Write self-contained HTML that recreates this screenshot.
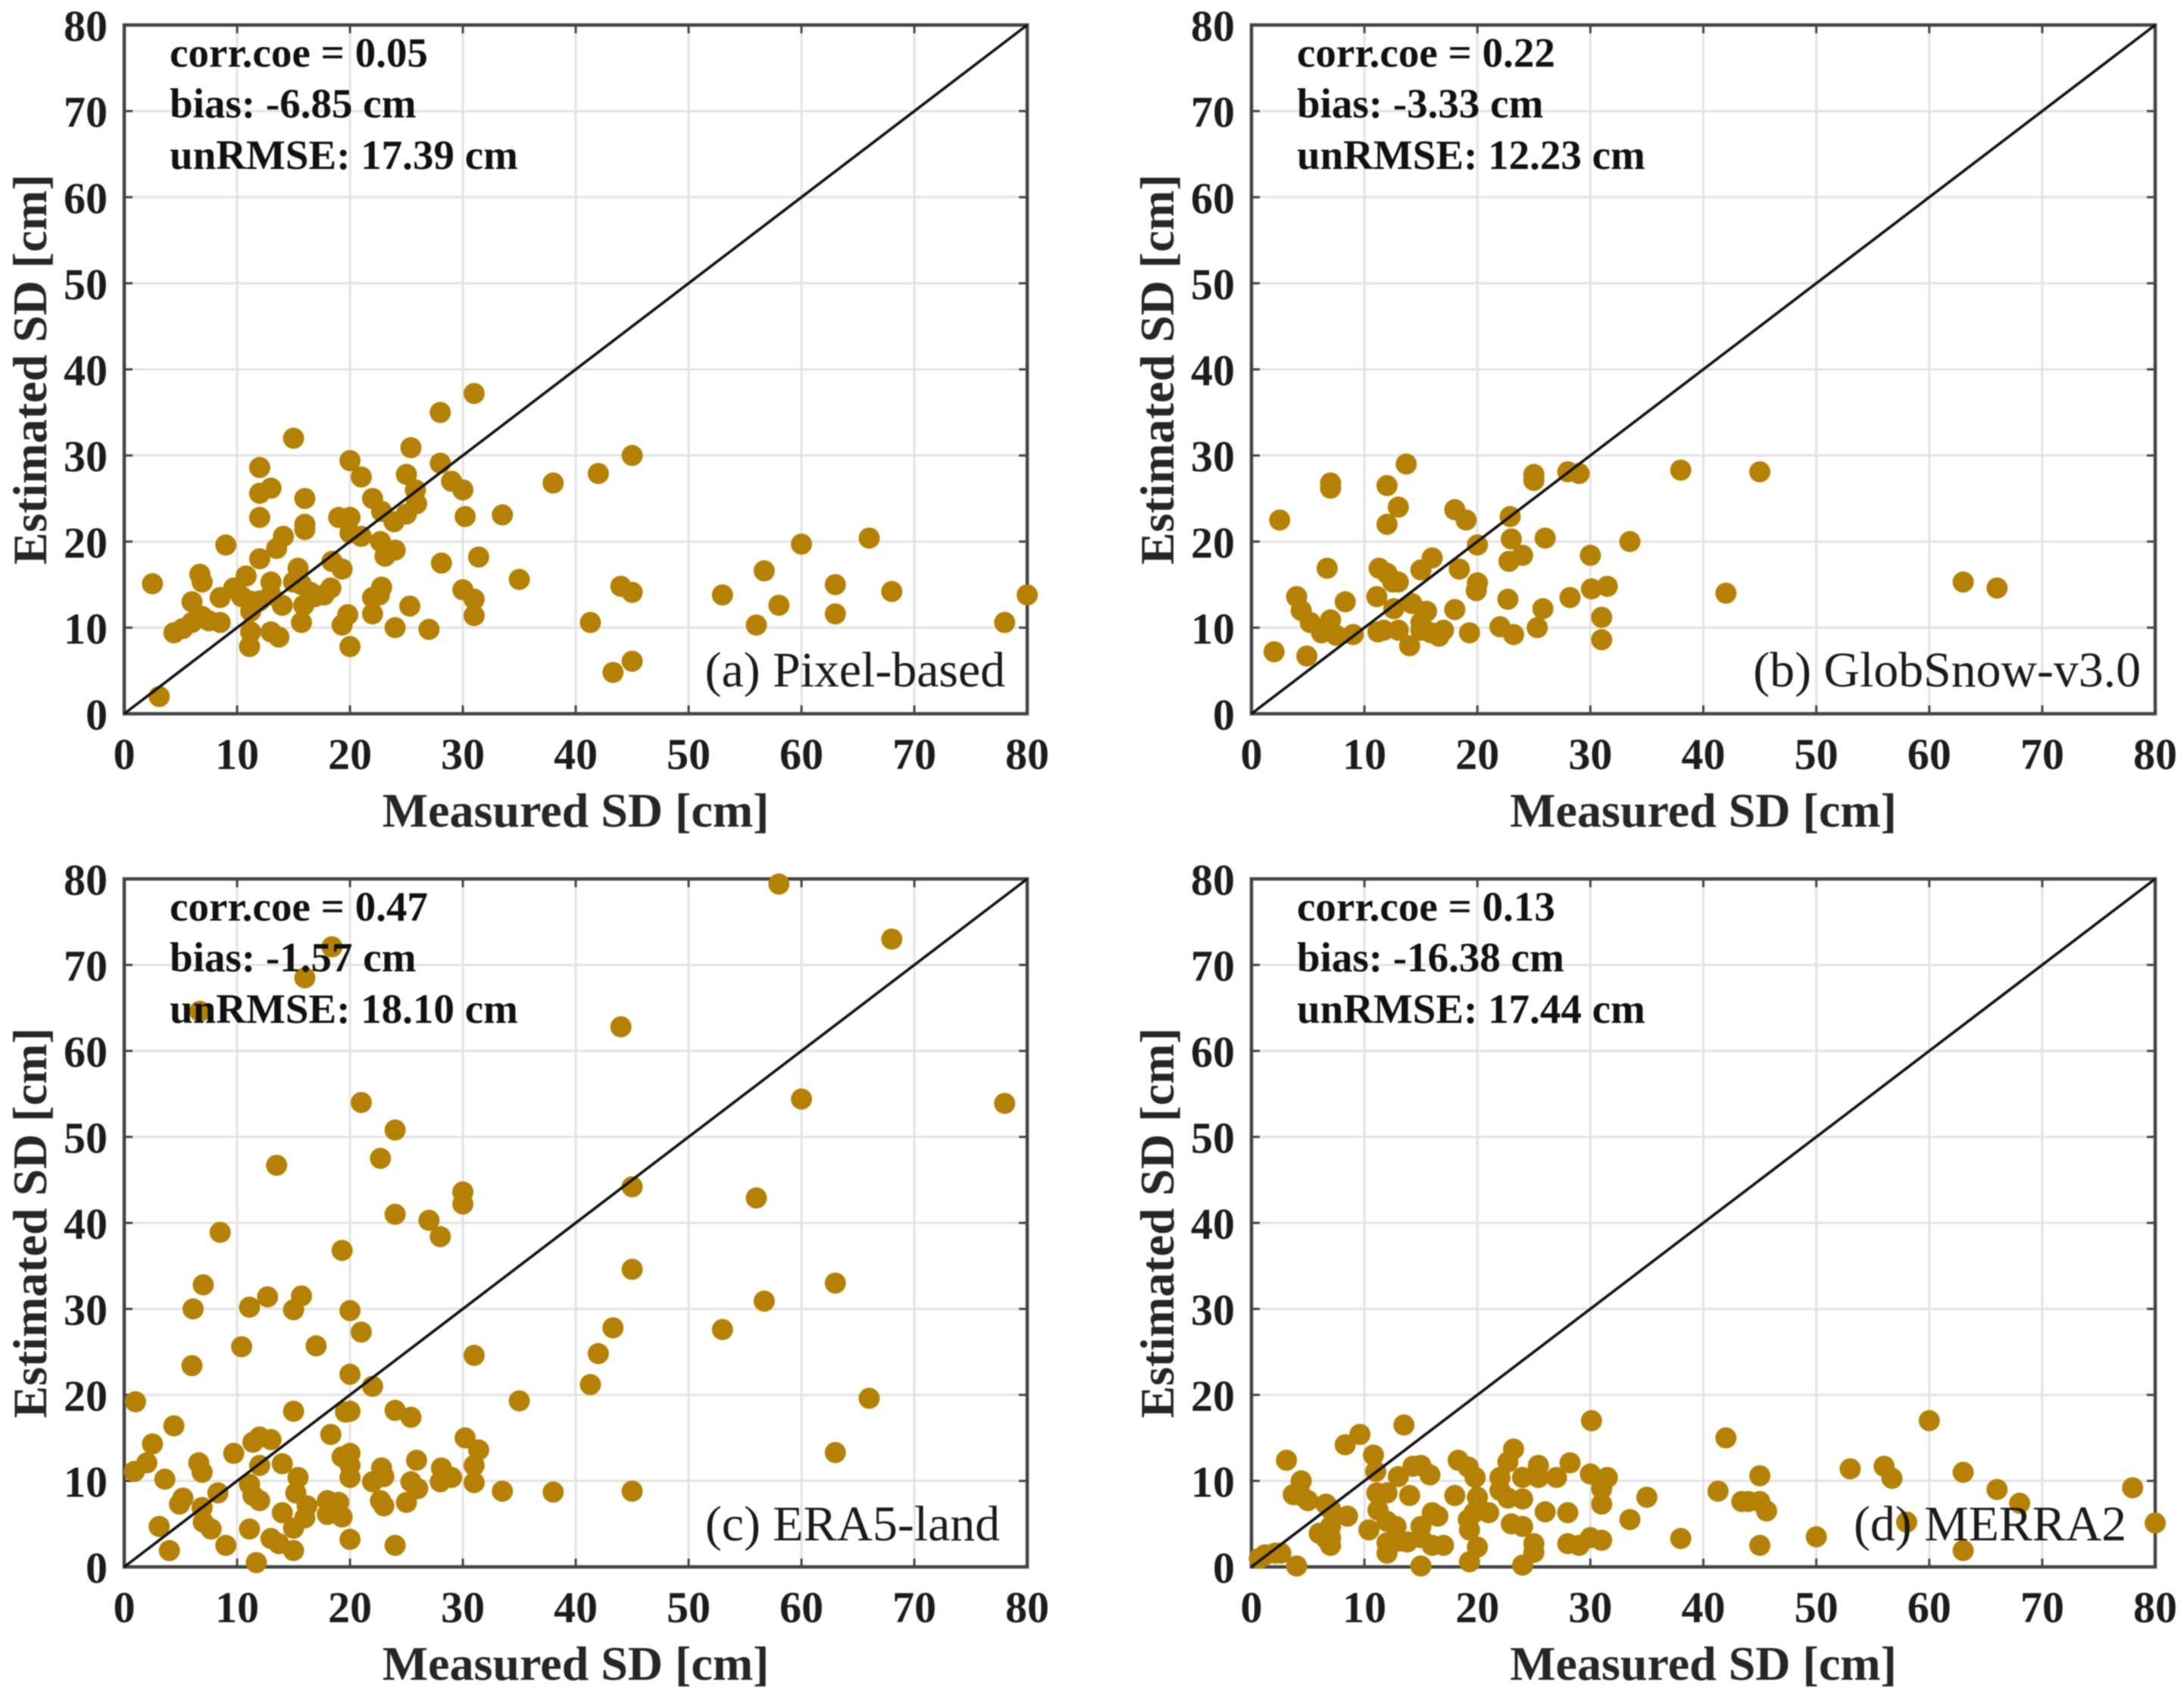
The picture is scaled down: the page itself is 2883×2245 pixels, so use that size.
<!DOCTYPE html>
<html lang="en">
<head>
<meta charset="utf-8">
<title>Snow depth scatter comparison</title>
<style>
html,body{margin:0;padding:0;background:#fff;width:2883px;height:2245px;overflow:hidden}
svg{display:block;filter:blur(0.7px)}
text{font-family:"Liberation Serif","DejaVu Serif",serif;fill:#1c1c1c}
.tick{font-size:58px;font-weight:bold}
.title{font-size:64px;font-weight:bold;text-anchor:middle;fill:#262626}
.stat{font-size:55px;font-weight:bold;fill:#111}
.tag{font-size:65.8px;text-anchor:end;fill:#1a1a1a}
</style>
</head>
<body>
<svg id="figure" xmlns="http://www.w3.org/2000/svg" width="2883" height="2245" viewBox="0 0 2883 2245">
  <rect width="2883" height="2245" fill="#fff"/>

  <g id="panel-a">
    <g id="under-a"></g>
    <g id="dots-a"></g>
    <g id="over-a"></g>
    <text class="stat" x="224" y="88">corr.coe = 0.05</text>
    <text class="stat" x="224" y="155">bias: -6.85 cm</text>
    <text class="stat" x="224" y="223">unRMSE: 17.39 cm</text>
    <text class="tag" x="1327" y="906">(a) Pixel-based</text>
  </g>

  <g id="panel-b">
    <g id="under-b"></g>
    <g id="dots-b"></g>
    <g id="over-b"></g>
    <text class="stat" x="1712" y="88">corr.coe = 0.22</text>
    <text class="stat" x="1712" y="155">bias: -3.33 cm</text>
    <text class="stat" x="1712" y="223">unRMSE: 12.23 cm</text>
    <text class="tag" x="2826" y="906">(b) GlobSnow-v3.0</text>
  </g>

  <g id="panel-c">
    <g id="under-c"></g>
    <g id="dots-c"></g>
    <g id="over-c"></g>
    <text class="stat" x="224" y="1215">corr.coe = 0.47</text>
    <text class="stat" x="224" y="1282">bias: -1.57 cm</text>
    <text class="stat" x="224" y="1350">unRMSE: 18.10 cm</text>
    <text class="tag" x="1320" y="2033">(c) ERA5-land</text>
  </g>

  <g id="panel-d">
    <g id="under-d"></g>
    <g id="dots-d"></g>
    <g id="over-d"></g>
    <text class="stat" x="1712" y="1215">corr.coe = 0.13</text>
    <text class="stat" x="1712" y="1282">bias: -16.38 cm</text>
    <text class="stat" x="1712" y="1350">unRMSE: 17.44 cm</text>
    <text class="tag" x="2807" y="2033">(d) MERRA2</text>
  </g>
</svg>

<script>
const tickValues = [0, 10, 20, 30, 40, 50, 60, 70, 80];
const xAxisTitle = "Measured SD [cm]";
const yAxisTitle = "Estimated SD [cm]";

const pixelMeasured = [2.5,3.1,4.4,5.2,6,6,6.7,6.9,6.9,7.5,8.5,8.5,9,9.7,10.4,10.8,11.1,11.2,11.2,11.1,12,12,13,12,12,12,13,13,13,13.7,13.5,14.1,14,15,15,15.4,16,16,16,15.7,15.7,15.9,16.5,16.9,17.7,18.3,18.4,19.3,19,20,20,20,19.3,19.8,20,21,21,22,22,22,22.8,22.8,22.6,22.7,23.1,23.9,24,24,25,25,25.4,25.8,25.9,25.3,27,28,28,28.1,29,30,30.2,30,31,31,31,31.4,33.5,35,38,41.3,42,43.3,44,45,45,45,53,56,56.7,58,60,63,63,66,68,78,80];
const pixelEstimated = [15.1,2,9.4,9.9,13,10.6,16.2,15.3,11.3,10.8,10.6,13.5,19.6,14.6,13.6,16,13.1,11.9,9.5,7.8,28.6,25.6,26.2,22.8,18,13.1,15.3,13.8,9.5,8.9,19.2,20.6,12.6,32,15.3,16.9,25,22,21.4,15,10.6,12.6,14.1,13.6,13.8,14.6,17.7,16.8,22.8,22.8,29.4,21,10.3,11.5,7.8,27.5,20.6,25,13.5,11.6,23.5,14.7,13.8,20,18.3,22.3,19,10,27.8,23.2,30.9,26,24.4,12.5,9.8,35,29.1,17.5,27,26,22.9,14.4,13.3,11.4,37.2,18.2,23.1,15.6,26.8,10.6,27.9,4.8,14.8,14.1,30,6.1,13.8,10.3,16.6,12.6,19.7,15,11.6,20.4,14.2,10.6,13.8];

const globMeasured = [2,2.5,4,4.4,5.2,4.9,6.2,6.7,7,7,7,7.5,8.3,9,11.1,11.2,11.3,12,11.7,12,12,12.5,13,13,12.6,13,13.7,14.2,14,15,16,15.5,15,15,15.9,16.6,17,18,18,18.4,19,19.3,20,20,19.9,22,22.9,23,22.8,22.7,23.2,24,25,25,25.3,25.8,26,28,29,28.2,30,30.1,31,31,31.5,33.5,38,42,45,63,66];
const globEstimated = [7.2,22.5,13.6,12,10.6,6.7,9.4,16.9,26.8,26.2,10.9,9.1,13,9.2,13.6,9.5,16.9,16.3,9.7,26.5,22,15.3,15.3,24,12.2,9.7,29,12.8,7.9,16.7,18.1,11.9,10.6,9.7,9.4,9,9.7,12.1,23.7,16.8,22.5,9.4,19.6,15.2,14.3,10.1,22.9,20.3,17.7,13.3,9.2,18.4,27.8,27.1,10,12.2,20.4,28.1,27.9,13.5,18.4,14.5,11.2,8.6,14.8,20,28.3,14,28.1,15.3,14.6];

const eraMeasured = [1,0.9,2,2.5,3.1,3.6,4,4.4,5.2,4.9,6,6.1,6.6,6.9,6.9,7,7,7.7,8.3,8.5,9,9.7,10.4,11.1,11.1,11.7,11.1,11.4,12,12,11.4,12,13,12.7,13.5,13,13.7,14,14,15,15,15.7,15.4,15.2,15,15,16,16,16.2,17,18,18,18.3,18.4,19,19.3,19.3,19.3,19.6,20,20,20,20,20,20,20,21,21,22,22,22.7,22.8,23,22.7,23,24,24,24,24,25,25.4,25.4,25.9,26,27,28,28,28.1,29,30,30,30.2,31,31,31,31.4,33.5,35,38,41.3,42,43.3,44,45,45,45,53,56,56.7,58,60,63,63,66,68,78,6.7];
const eraEstimated = [19.2,11.1,12.1,14.3,4.7,10.2,1.9,16.4,8,7.3,23.4,30,12.1,11,6.9,32.8,5.2,4.4,8.6,38.9,2.5,13.2,25.6,30.2,4.4,0.5,9.6,8.3,7.7,11.8,14.5,15.1,14.8,31.4,46.7,3.3,2.7,12,6.3,18.1,29.9,31.5,10.4,8.6,4.5,1.9,68.5,5.7,7.1,25.7,7.7,6.1,15.4,72.1,7.5,5.8,36.8,12.8,18,13.2,11.8,10.4,3.2,29.8,22.4,18.1,54,27.3,21,9.9,47.5,11.5,10.5,7.7,7.1,50.8,41,18.2,2.5,7.5,9.9,17.4,12.4,9.1,40.3,38.4,9.9,11.5,10.4,43.6,42.2,15,24.6,11.8,9.8,13.6,8.8,19.3,8.7,21.2,24.8,27.8,62.8,44.2,34.6,8.8,27.6,42.9,30.9,79.4,54.4,33,13.3,19.6,73,53.9,64.6];

const merraMeasured = [0.7,1.2,2.1,2.6,3.1,4,3.7,4.4,4.4,5,6,6.6,7,7,7,6.6,7,8.3,8.5,9.6,10.4,10.8,11,11.1,11.2,12,12,12,12,13,12.8,13.1,13.5,13.8,14,14.3,15,15,15,15,15.8,16,16.5,16,17,18.3,18,19.2,19.3,19.2,19.3,19.8,20,20,19.7,21,22,22,22.7,23.2,22.7,23,24,24,24,24,25,25,25.4,25.4,26,27,28,28.2,28,29,30,30,30.1,31,31,31,31.5,33.5,35,38,41.3,42,43.4,44,45,45,45,45.6,50,53,56,56.7,58,60,63,63,66,68,78,80];
const merraEstimated = [1,1.4,1.6,1.6,12.4,0.1,8.4,10,8.3,7.7,3.9,7.3,4.7,3.4,2.5,3.3,6.7,14.2,5.9,15.4,4.3,13,11.1,8.6,6.6,8.6,5.3,2.8,1.6,10.5,4.7,3,16.5,2.9,8.3,11.7,11.8,0.1,4.7,3.4,10.7,6.3,5.9,2.5,2.5,12.4,8.3,11.6,0.6,5.5,4.3,10.4,8.1,2.3,6.3,6.3,10.4,8.9,12.2,13.7,8,5,7.9,4.7,0.2,10.4,2.7,1.7,11.8,10.4,6.4,10.4,6.3,12.1,2.7,2.5,3.4,10.8,17,7.3,9.1,3.1,10.4,5.5,8.1,3.3,8.8,15,7.6,7.6,10.6,7.6,2.5,6.5,3.5,11.4,11.7,10.3,5.2,17,11,1.9,9,7.4,9.2,5.1];

const NS = "http://www.w3.org/2000/svg";

function makeX(left, width) { return function (v) { return left + (v / 80) * width; }; }
function makeY(bottom, height) { return function (v) { return bottom - (v / 80) * height; }; }

function seg(parent, x1, y1, x2, y2, color, w) {
  const l = document.createElementNS(NS, "line");
  l.setAttribute("x1", x1);
  l.setAttribute("y1", y1);
  l.setAttribute("x2", x2);
  l.setAttribute("y2", y2);
  l.setAttribute("stroke", color);
  l.setAttribute("stroke-width", w);
  parent.appendChild(l);
  return l;
}

function label(parent, cls, x, y, anchor, str) {
  const t = document.createElementNS(NS, "text");
  t.setAttribute("class", cls);
  t.setAttribute("x", x);
  t.setAttribute("y", y);
  if (anchor) t.setAttribute("text-anchor", anchor);
  t.textContent = str;
  parent.appendChild(t);
  return t;
}

function drawPanel(id, left, right, top, bottom, xs, ys) {
  const under = document.getElementById("under-" + id);
  const dots = document.getElementById("dots-" + id);
  const over = document.getElementById("over-" + id);
  const X = makeX(left, right - left);
  const Y = makeY(bottom, bottom - top);

  tickValues.forEach(function (v) {
    if (v > 0 && v < 80) {
      const gx = seg(under, X(v), top, X(v), bottom, "#e3e3e3", 3);
      
      
      const gy = seg(under, left, Y(v), right, Y(v), "#e3e3e3", 3);
      
      
      const t1 = seg(under, X(v), bottom, X(v), bottom - 11, "#444", 3);
      
      
      const t2 = seg(under, X(v), top, X(v), top + 11, "#444", 3);
      
      
      const t3 = seg(under, left, Y(v), left + 11, Y(v), "#444", 3);
      
      
      const t4 = seg(under, right, Y(v), right - 11, Y(v), "#444", 3);
      
      
    }
    const xl = label(under, "tick", X(v), bottom + 73, "middle", String(v));
    
    
    const yl = label(under, "tick", left - 22, Y(v) + 21, "end", String(v));
    
    
  });

  const frame = document.createElementNS(NS, "rect");
  frame.setAttribute("x", left);
  frame.setAttribute("y", top);
  frame.setAttribute("width", right - left);
  frame.setAttribute("height", bottom - top);
  frame.setAttribute("fill", "none");
  frame.setAttribute("stroke", "#444");
  frame.setAttribute("stroke-width", 4.5);
  
  
  under.appendChild(frame);

  const xt = label(under, "title", (left + right) / 2, bottom + 149, null, xAxisTitle);
  
  

  const yx = left - 103;
  const yy = (top + bottom) / 2;
  const yt = label(under, "title", yx, yy, null, yAxisTitle);
  yt.setAttribute("transform", "rotate(-90 " + yx + " " + yy + ")");
  
  

  xs.forEach(function (mx, i) {
    const c = document.createElementNS(NS, "circle");
    c.setAttribute("cx", X(mx));
    c.setAttribute("cy", Y(ys[i]));
    c.setAttribute("r", 14);
    c.setAttribute("fill", "#b58105");
    
    
    dots.appendChild(c);
  });

  const line = seg(over, X(0), Y(0), X(80), Y(80), "#111", 3.6);
  
  
}

drawPanel("a", 164, 1356, 33, 942, pixelMeasured, pixelEstimated);
drawPanel("b", 1652, 2845, 33, 942, globMeasured, globEstimated);
drawPanel("c", 164, 1356, 1160, 2068, eraMeasured, eraEstimated);
drawPanel("d", 1652, 2845, 1160, 2068, merraMeasured, merraEstimated);
</script>
</body>
</html>
